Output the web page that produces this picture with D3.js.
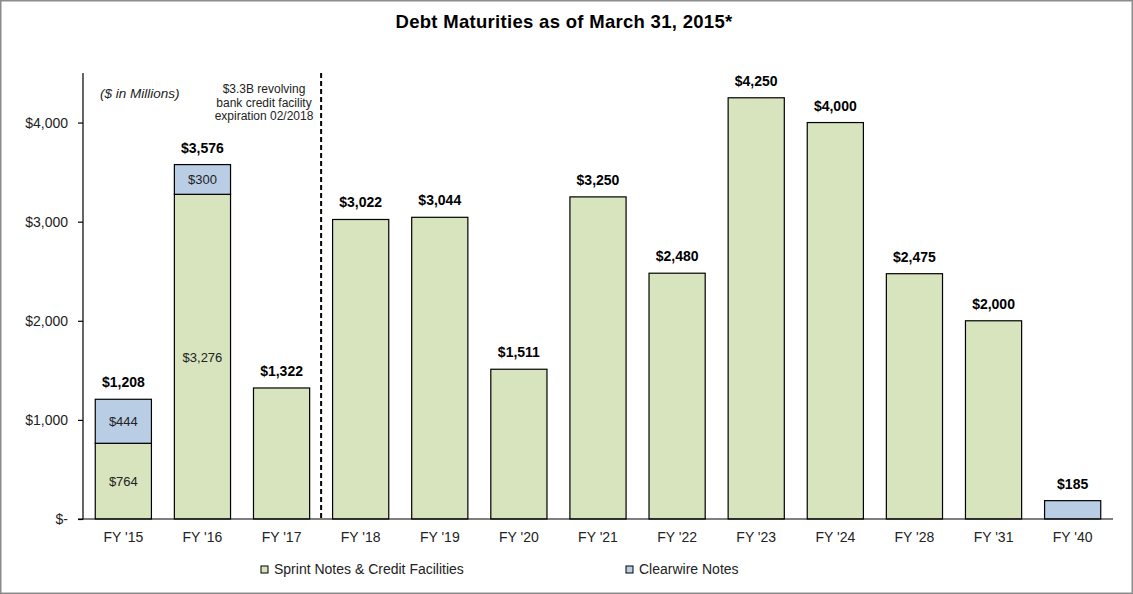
<!DOCTYPE html>
<html>
<head>
<meta charset="utf-8">
<script src="https://cdn.jsdelivr.net/npm/d3@7"></script>
<style>
  html, body { margin: 0; padding: 0; background: #fff; }
  svg { display: block; font-family: "Liberation Sans", Arial, sans-serif; }
</style>
</head>
<body>
<script>
const width = 1133;
const height = 594;

const categories = ["FY '15", "FY '16", "FY '17", "FY '18", "FY '19", "FY '20", "FY '21",
                    "FY '22", "FY '23", "FY '24", "FY '28", "FY '31", "FY '40"];
const sprintNotes = [764, 3276, 1322, 3022, 3044, 1511, 3250, 2480, 4250, 4000, 2475, 2000, 0];
const clearwireNotes = [444, 300, 0, 0, 0, 0, 0, 0, 0, 0, 0, 0, 185];
const yTicks = [0, 1000, 2000, 3000, 4000];
const seriesNames = ["Sprint Notes & Credit Facilities", "Clearwire Notes"];
const seriesColors = ["#d7e4bd", "#b9cde5"];
// segments that carry their own value label
const segmentLabelCats = ["FY '15", "FY '16"];

const margin = { top: 73, right: 20, bottom: 75, left: 83 };

const svg = d3.select("body").append("svg")
  .attr("width", width)
  .attr("height", height);

// outer frame
svg.append("rect")
  .attr("x", 0.75).attr("y", 0.75)
  .attr("width", width - 1.5).attr("height", height - 1.5)
  .attr("fill", "none").attr("stroke", "#8c8c8c").attr("stroke-width", 1.5);

const x = d3.scaleBand()
  .domain(categories)
  .range([margin.left, width - margin.right])
  .paddingInner(0.29)
  .paddingOuter(0.155);

const y = d3.scaleLinear()
  .domain([0, 4500])
  .range([height - margin.bottom, margin.top]);

const rows = categories.map((c, i) => ({
  cat: c, sprint: sprintNotes[i], clearwire: clearwireNotes[i],
  total: sprintNotes[i] + clearwireNotes[i]
}));

const stack = d3.stack().keys(["sprint", "clearwire"]);
const layers = stack(rows);

const fmt = v => "$" + d3.format(",")(v);

// title
svg.append("text")
  .attr("x", 564).attr("y", 28)
  .attr("text-anchor", "middle")
  .attr("font-size", 18.5).attr("font-weight", "bold")
  .attr("letter-spacing", 0.3)
  .text("Debt Maturities as of March 31, 2015*");

// bars
const layerG = svg.append("g").selectAll("g")
  .data(layers)
  .join("g")
  .attr("fill", (d, i) => seriesColors[i]);

layerG.selectAll("rect")
  .data(d => d.filter(s => s[1] - s[0] > 0))
  .join("rect")
  .attr("x", d => x(d.data.cat))
  .attr("width", x.bandwidth())
  .attr("y", d => y(d[1]))
  .attr("height", d => y(d[0]) - y(d[1]))
  .attr("stroke", "#000")
  .attr("stroke-width", 1.2);

// segment labels
layers.forEach(layer => {
  svg.append("g").selectAll("text")
    .data(layer.filter(s => segmentLabelCats.includes(s.data.cat) && s[1] - s[0] > 0))
    .join("text")
    .attr("x", d => x(d.data.cat) + x.bandwidth() / 2)
    .attr("y", d => y((d[0] + d[1]) / 2) + 5)
    .attr("text-anchor", "middle")
    .attr("font-size", 13)
    .attr("fill", "#222")
    .text(d => fmt(d[1] - d[0]));
});

// total labels
svg.append("g").selectAll("text")
  .data(rows)
  .join("text")
  .attr("x", d => x(d.cat) + x.bandwidth() / 2)
  .attr("y", d => y(d.total) - 12)
  .attr("text-anchor", "middle")
  .attr("font-size", 14).attr("font-weight", "bold")
  .text(d => fmt(d.total));

// y axis
const yAxis = d3.axisLeft(y)
  .tickValues(yTicks)
  .tickSize(5)
  .tickPadding(10)
  .tickFormat(v => v === 0 ? "$-" : fmt(v));

const yg = svg.append("g")
  .attr("transform", `translate(${margin.left},0)`)
  .call(yAxis);
yg.select(".domain").attr("d", `M-5,${y(0)}H0V${margin.top}`).attr("stroke-width", 1.2);
yg.selectAll(".tick line").attr("stroke-width", 1.2);
yg.selectAll(".tick text")
  .attr("font-size", 14).attr("font-family", "Liberation Sans, Arial, sans-serif").attr("fill", "#222");

// x axis
const xg = svg.append("g")
  .attr("transform", `translate(0,${y(0)})`)
  .call(d3.axisBottom(x).tickSize(0).tickPadding(13));
xg.select(".domain").attr("d", `M${margin.left},0H${width - margin.right}`).attr("stroke-width", 1.2);
xg.selectAll(".tick text")
  .attr("font-size", 14).attr("font-family", "Liberation Sans, Arial, sans-serif").attr("fill", "#222");

// dashed divider between FY '17 and FY '18
const divX = (x("FY '17") + x.bandwidth() + x("FY '18")) / 2;
svg.append("line")
  .attr("x1", divX).attr("x2", divX)
  .attr("y1", margin.top).attr("y2", y(0))
  .attr("stroke", "#000").attr("stroke-width", 2)
  .attr("stroke-dasharray", "5,3");

// notes
svg.append("text")
  .attr("x", 100).attr("y", 98)
  .attr("font-size", 13.5).attr("font-style", "italic").attr("fill", "#222")
  .text("($ in Millions)");

const note = svg.append("text")
  .attr("text-anchor", "middle")
  .attr("font-size", 12).attr("fill", "#222");
["$3.3B revolving", "bank credit facility", "expiration 02/2018"].forEach((t, i) => {
  note.append("tspan").attr("x", 264).attr("y", 93 + i * 13.5).text(t);
});

// legend
const legendX = [261, 626];
const legend = svg.append("g").selectAll("g")
  .data(seriesNames)
  .join("g")
  .attr("transform", (d, i) => `translate(${legendX[i]},566)`);
legend.append("rect")
  .attr("width", 7).attr("height", 7)
  .attr("fill", (d, i) => seriesColors[i])
  .attr("stroke", "#000").attr("stroke-width", 1);
legend.append("text")
  .attr("x", 13).attr("y", 8)
  .attr("font-size", 14).attr("fill", "#222")
  .text(d => d);
</script>
</body>
</html>
